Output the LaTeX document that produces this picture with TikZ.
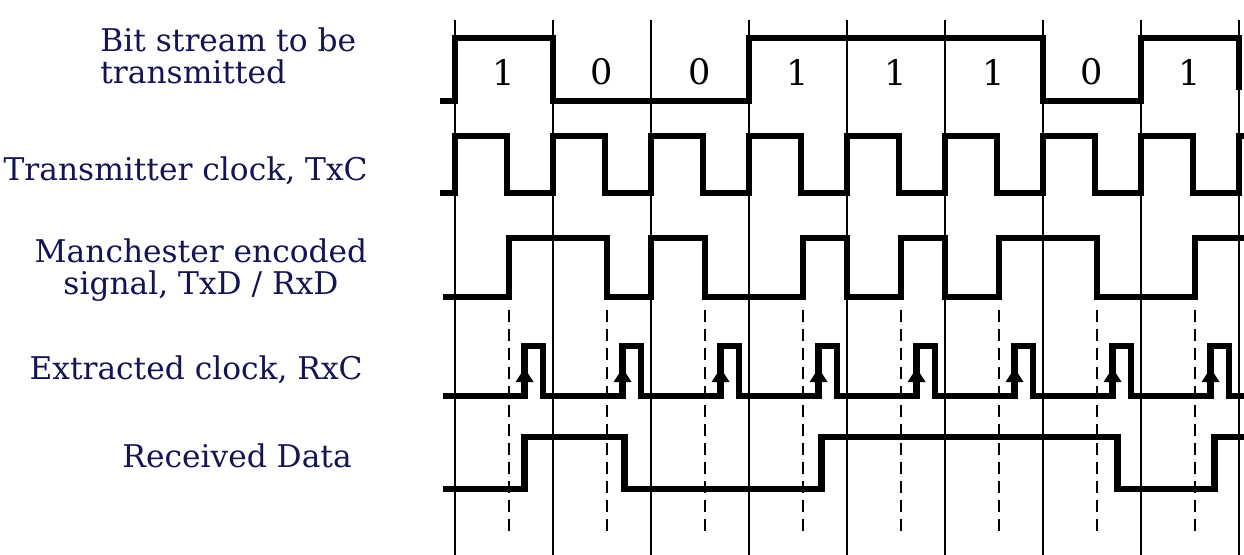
\documentclass[tikz,border=0pt]{standalone}
\usepackage{fontspec}
\setmainfont{DejaVu Serif}
\usetikzlibrary{arrows.meta}
\definecolor{labelblue}{RGB}{20,20,85}
\tikzset{
  sig/.style={line width=3.6pt},
  bitline/.style={line width=1.4pt},
  midline/.style={line width=1.5pt, dash pattern=on 6.8pt off 4pt},
  upmark/.style={line width=1pt, -{Triangle[width=10pt,length=8pt]}},
  lbl/.style={text=labelblue, inner sep=0pt, font=\fontsize{17.8}{18}\selectfont},
  digit/.style={inner sep=0pt, font=\fontsize{20}{20}\selectfont}
}
\begin{document}
\begin{tikzpicture}[x=1.96cm, y=1cm]
\useasboundingbox (-4.643,0) rectangle (8.051,11.1);
%\draw[step=1,gray,very thin] (-4,0) grid (8,11); %background grid
% bit boundaries
\draw[bitline] (0,0) -- (0,10.7);
\draw[bitline] (1,0) -- (1,10.7);
\draw[bitline] (2,0) -- (2,10.7);
\draw[bitline] (3,0) -- (3,10.7);
\draw[bitline] (4,0) -- (4,10.7);
\draw[bitline] (5,0) -- (5,10.7);
\draw[bitline] (6,0) -- (6,10.7);
\draw[bitline] (7,0) -- (7,10.7);
\draw[bitline] (8,0) -- (8,10.7);
% mid-bit sampling lines
\draw[midline] (0.55,4.9) -- (0.55,0.42);
\draw[midline] (1.55,4.9) -- (1.55,0.42);
\draw[midline] (2.55,4.9) -- (2.55,0.42);
\draw[midline] (3.55,4.9) -- (3.55,0.42);
\draw[midline] (4.55,4.9) -- (4.55,0.42);
\draw[midline] (5.55,4.9) -- (5.55,0.42);
\draw[midline] (6.55,4.9) -- (6.55,0.42);
\draw[midline] (7.55,4.9) -- (7.55,0.42);
% bit stream
\draw[sig] (-0.15,9.08) -| (0,10.34) -| (1,9.08) -| (3,10.34) -| (6,9.08) -| (7,10.34) -| (8,9.3);
\node[digit] (b1) at (0.5,9.66){1}; %1
\node[digit] (b2) at (1.5,9.66){0}; %2
\node[digit] (b3) at (2.5,9.66){0}; %3
\node[digit] (b4) at (3.5,9.66){1}; %4
\node[digit] (b5) at (4.5,9.66){1}; %5
\node[digit] (b6) at (5.5,9.66){1}; %6
\node[digit] (b7) at (6.5,9.66){0}; %7
\node[digit] (b8) at (7.5,9.66){1}; %8
% TxC
\draw[sig] (-0.15,7.24) -| (0,8.38) -| (0.53,7.24) -| (1,8.38) -| (1.53,7.24) -| (2,8.38) -| (2.53,7.24) -| (3,8.38) -| (3.53,7.24) -| (4,8.38) -| (4.53,7.24) -| (5,8.38) -| (5.53,7.24) -| (6,8.38) -| (6.53,7.24) -| (7,8.38) -| (7.53,7.24) -| (8,8.38) -- (8.06,8.38);
% TxD / RxD
\draw[sig] (-0.12,5.16) -| (0.55,6.34) -| (1.55,5.16) -| (2,6.34) -| (2.55,5.16) -| (3.55,6.34) -| (4,5.16) -| (4.55,6.34) -| (5,5.16) -| (5.55,6.34) -| (6.55,5.16) -| (7.55,6.34) -- (8.06,6.34);
% RxC
\draw[sig] (-0.12,3.18) -| (0.71,4.18) -| (0.9,3.18) -| (1.71,4.18) -| (1.9,3.18) -| (2.71,4.18) -| (2.9,3.18) -| (3.71,4.18) -| (3.9,3.18) -| (4.71,4.18) -| (4.9,3.18) -| (5.71,4.18) -| (5.9,3.18) -| (6.71,4.18) -| (6.9,3.18) -| (7.71,4.18) -| (7.9,3.18) -- (8.06,3.18);
\draw[upmark] (0.71,3.4) -- (0.71,3.74);
\draw[upmark] (1.71,3.4) -- (1.71,3.74);
\draw[upmark] (2.71,3.4) -- (2.71,3.74);
\draw[upmark] (3.71,3.4) -- (3.71,3.74);
\draw[upmark] (4.71,3.4) -- (4.71,3.74);
\draw[upmark] (5.71,3.4) -- (5.71,3.74);
\draw[upmark] (6.71,3.4) -- (6.71,3.74);
\draw[upmark] (7.71,3.4) -- (7.71,3.74);
% received data
\draw[sig] (-0.12,1.32) -| (0.71,2.36) -| (1.73,1.32) -| (3.74,2.36) -| (6.76,1.32) -| (7.75,2.36) -- (8.06,2.36);
% labels
\node[lbl, anchor=west, align=left] (lbits) at (-3.622,9.98) {Bit stream to be\\transmitted};
\node[lbl, anchor=base east] (ltxc) at (-0.888,7.5) {Transmitter clock, TxC};
\node[lbl, align=center] (lman) at (-2.592,5.7) {Manchester encoded\\signal, TxD / RxD};
\node[lbl, anchor=base east] (lrxc) at (-0.939,3.5) {Extracted clock, RxC};
\node[lbl, anchor=base east] (lrxd) at (-1.051,1.74) {Received Data};
\end{tikzpicture}
\end{document}
